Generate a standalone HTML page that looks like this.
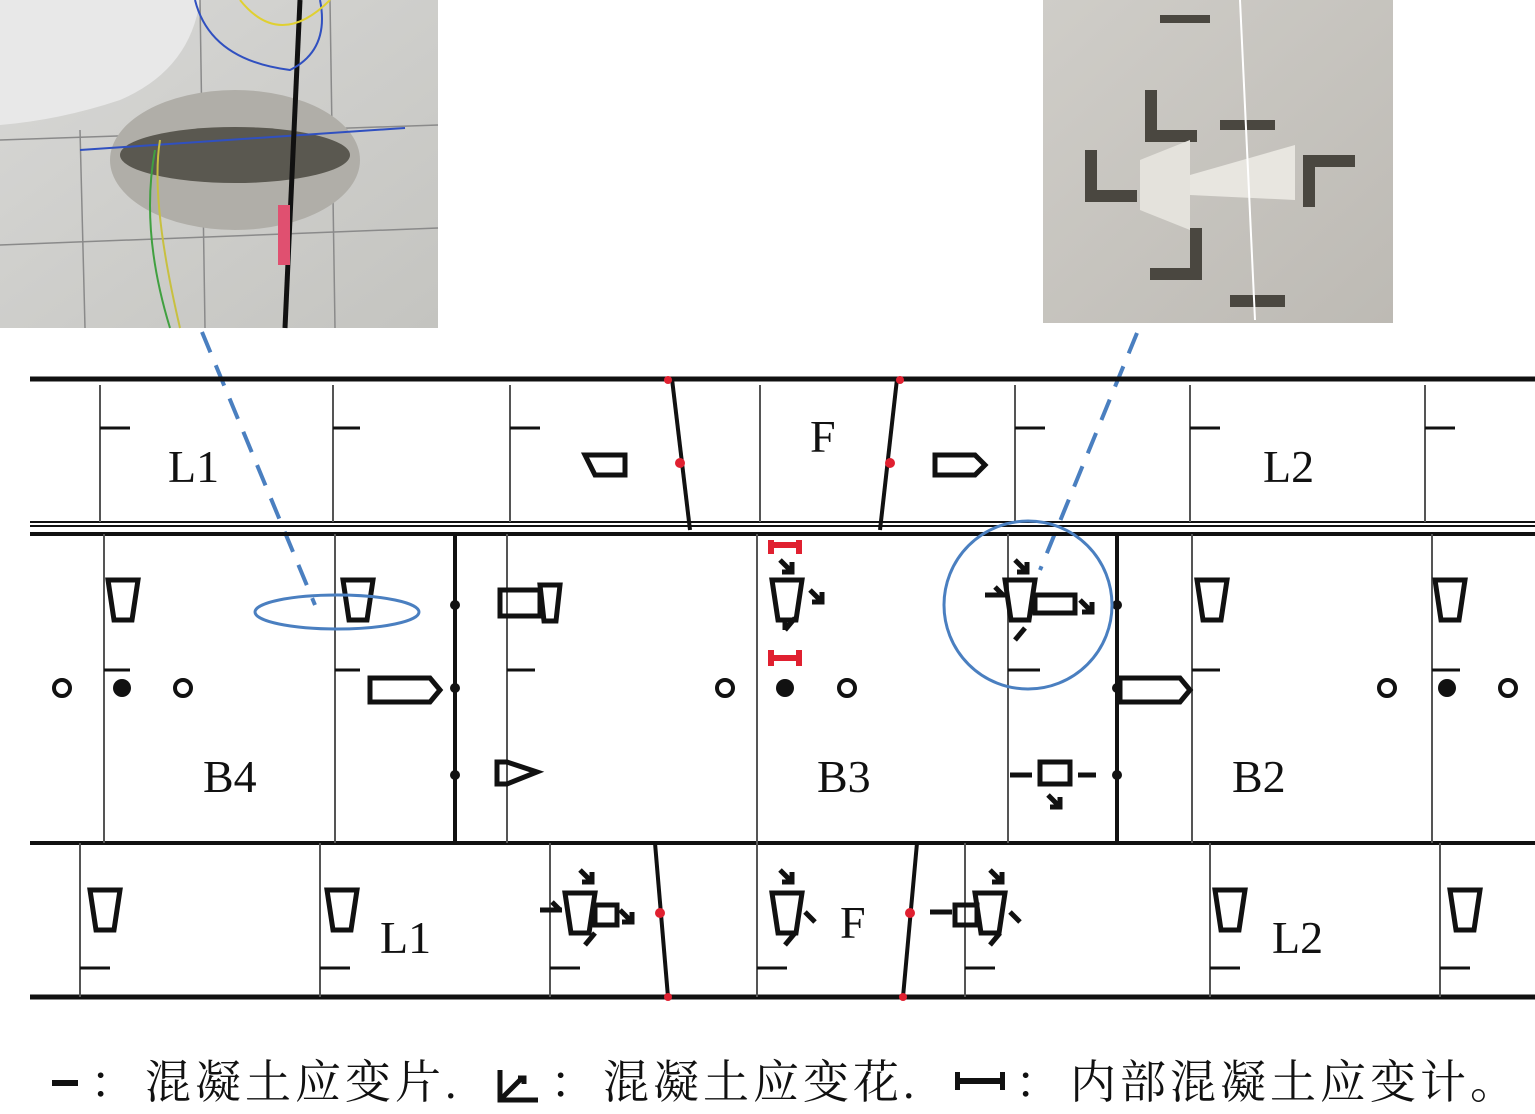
<!DOCTYPE html>
<html><head><meta charset="utf-8"><style>
html,body{margin:0;padding:0;background:#fff;width:1535px;height:1114px;overflow:hidden}
</style></head><body>
<svg width="1535" height="1114" viewBox="0 0 1535 1114" xmlns="http://www.w3.org/2000/svg">
<defs>
<linearGradient id="g1" x1="0" y1="0" x2="1" y2="1"><stop offset="0" stop-color="#d8d8d6"/><stop offset="1" stop-color="#c4c4c0"/></linearGradient>
<linearGradient id="g2" x1="0" y1="0" x2="1" y2="1"><stop offset="0" stop-color="#cfcdc8"/><stop offset="1" stop-color="#bdbab4"/></linearGradient>
</defs>
<rect x="0" y="0" width="438" height="328" fill="url(#g1)"/>
<path d="M0 0 H200 Q190 70 120 100 Q60 120 0 125 Z" fill="#e8e8e8"/>
<g stroke="#8a8a8a" stroke-width="1.5" fill="none">
<line x1="0" y1="245" x2="438" y2="228"/><line x1="0" y1="140" x2="438" y2="125"/>
<line x1="80" y1="130" x2="85" y2="328"/><line x1="200" y1="0" x2="205" y2="328"/><line x1="330" y1="0" x2="335" y2="328"/>
</g>
<ellipse cx="235" cy="160" rx="125" ry="70" fill="#b0aea8"/>
<ellipse cx="235" cy="155" rx="115" ry="28" fill="#5a5850"/>
<line x1="80" y1="150" x2="405" y2="128" stroke="#3050c0" stroke-width="2"/>
<path d="M300 0 L285 328" stroke="#111" stroke-width="5" fill="none"/>
<path d="M195 0 Q210 60 290 70 Q330 50 320 0" stroke="#3050c0" stroke-width="2" fill="none"/>
<path d="M240 0 Q280 50 330 0" stroke="#e0d030" stroke-width="2" fill="none"/>
<path d="M160 140 Q150 200 180 328" stroke="#c8c040" stroke-width="2" fill="none"/>
<path d="M155 150 Q140 230 170 328" stroke="#40a040" stroke-width="2" fill="none"/>
<rect x="278" y="205" width="12" height="60" fill="#e05070"/>
<rect x="1043" y="0" width="350" height="323" fill="url(#g2)"/>
<g fill="#4a4740">
<rect x="1160" y="15" width="50" height="8"/><rect x="1220" y="120" width="55" height="10"/><rect x="1230" y="295" width="55" height="12"/>
<path d="M1145 90 l12 0 l0 40 l40 0 l0 12 l-52 0z"/><path d="M1085 150 l12 0 l0 40 l40 0 l0 12 l-52 0z"/>
<path d="M1150 230 l12 0 l0 40 l40 0 l0 12 l-52 0z" transform="rotate(-90 1175 255)"/>
<path d="M1305 155 l12 0 l0 40 l40 0 l0 12 l-52 0z" transform="rotate(90 1330 180)"/>
</g>
<path d="M1140 160 L1190 140 L1190 230 L1140 210 Z" fill="#e4e2dc"/>
<path d="M1190 175 L1295 145 L1295 200 L1190 195 Z" fill="#e8e6e0"/>
<line x1="1240" y1="0" x2="1255" y2="320" stroke="#fff" stroke-width="2"/>
<g stroke="#4a7fc0" stroke-width="4" stroke-dasharray="22,14" fill="none">
<line x1="202" y1="332" x2="315" y2="605"/><line x1="1137" y1="333" x2="1040" y2="570"/>
</g>
<g stroke="#111" fill="none">
<line x1="30" y1="379" x2="1535" y2="379" stroke-width="5"/>
<line x1="30" y1="522" x2="1535" y2="522" stroke-width="2"/>
<line x1="30" y1="526" x2="1535" y2="526" stroke-width="2"/>
<line x1="30" y1="534" x2="1535" y2="534" stroke-width="4"/>
<line x1="30" y1="843" x2="1535" y2="843" stroke-width="4"/>
<line x1="30" y1="997" x2="1535" y2="997" stroke-width="5"/>
<line x1="455" y1="534" x2="455" y2="843" stroke-width="4"/>
<line x1="1117" y1="534" x2="1117" y2="843" stroke-width="4"/>
<line x1="672" y1="379" x2="690" y2="530" stroke-width="4"/>
<line x1="897" y1="379" x2="880" y2="530" stroke-width="4"/>
<line x1="655" y1="843" x2="668" y2="997" stroke-width="4"/>
<line x1="917" y1="843" x2="903" y2="997" stroke-width="4"/>
</g>
<g stroke="#555" stroke-width="2">
<line x1="100" y1="385" x2="100" y2="522"/><line x1="333" y1="385" x2="333" y2="522"/><line x1="510" y1="385" x2="510" y2="522"/><line x1="760" y1="385" x2="760" y2="522"/><line x1="1015" y1="385" x2="1015" y2="522"/><line x1="1190" y1="385" x2="1190" y2="522"/><line x1="1425" y1="385" x2="1425" y2="522"/>
<line x1="104" y1="534" x2="104" y2="843"/><line x1="335" y1="534" x2="335" y2="843"/><line x1="507" y1="534" x2="507" y2="843"/><line x1="757" y1="534" x2="757" y2="843"/><line x1="1008" y1="534" x2="1008" y2="843"/><line x1="1192" y1="534" x2="1192" y2="843"/><line x1="1432" y1="534" x2="1432" y2="843"/>
<line x1="80" y1="843" x2="80" y2="997"/><line x1="320" y1="843" x2="320" y2="997"/><line x1="550" y1="843" x2="550" y2="997"/><line x1="757" y1="843" x2="757" y2="997"/><line x1="965" y1="843" x2="965" y2="997"/><line x1="1210" y1="843" x2="1210" y2="997"/><line x1="1440" y1="843" x2="1440" y2="997"/>
</g>
<g stroke="#111" stroke-width="3">
<line x1="100" y1="428" x2="130" y2="428"/><line x1="333" y1="428" x2="360" y2="428"/><line x1="510" y1="428" x2="540" y2="428"/><line x1="1015" y1="428" x2="1045" y2="428"/><line x1="1190" y1="428" x2="1220" y2="428"/><line x1="1425" y1="428" x2="1455" y2="428"/>
<line x1="104" y1="670" x2="130" y2="670"/><line x1="335" y1="670" x2="360" y2="670"/><line x1="507" y1="670" x2="535" y2="670"/><line x1="1008" y1="670" x2="1040" y2="670"/><line x1="1192" y1="670" x2="1220" y2="670"/><line x1="1432" y1="670" x2="1460" y2="670"/>
<line x1="80" y1="968" x2="110" y2="968"/><line x1="320" y1="968" x2="350" y2="968"/><line x1="550" y1="968" x2="580" y2="968"/><line x1="757" y1="968" x2="787" y2="968"/><line x1="965" y1="968" x2="995" y2="968"/><line x1="1210" y1="968" x2="1240" y2="968"/><line x1="1440" y1="968" x2="1470" y2="968"/>
</g>
<g fill="none" stroke="#111" stroke-width="5">
<path d="M108 580 h30 l-6 40 h-18 z"/><path d="M343 580 h30 l-6 40 h-18 z"/><path d="M1197 580 h30 l-6 40 h-18 z"/><path d="M1435 580 h30 l-6 40 h-18 z"/>
<path d="M772 580 h30 l-6 40 h-18 z"/><path d="M1005 580 h30 l-6 40 h-18 z"/>
<path d="M500 590 h40 v26 h-40 z"/><path d="M540 585 h20 l-4 36 h-12 z"/>
<path d="M370 678 h60 l10 12 l-10 12 h-60 z"/><path d="M1120 678 h60 l10 12 l-10 12 h-60 z"/>
<path d="M497 762 h10 l30 10 l-30 12 h-10 z"/><path d="M1040 762 h30 v22 h-30 z"/>
<path d="M1035 595 h40 v18 h-40 z"/>
<path d="M585 455 h40 v20 h-30 z"/><path d="M935 455 h40 l10 10 l-10 10 h-40 z"/>
<path d="M90 890 h30 l-6 40 h-18 z"/><path d="M327 890 h30 l-6 40 h-18 z"/><path d="M1215 890 h30 l-6 40 h-18 z"/><path d="M1450 890 h30 l-6 40 h-18 z"/>
<path d="M565 893 h30 l-6 40 h-18 z"/><path d="M772 893 h30 l-6 40 h-18 z"/><path d="M975 893 h30 l-6 40 h-18 z"/>
<path d="M595 905 h22 v20 h-22 z"/><path d="M955 905 h22 v20 h-22 z"/>
</g>
<g stroke="#111" stroke-width="5" fill="none">
<path d="M780 560 l12 12 m-10 0 h10 v-10"/><path d="M810 590 l12 12 m-10 0 h10 v-10"/><path d="M785 630 l10 -12 m-10 2 v10"/>
<path d="M1015 560 l12 12 m-10 0 h10 v-10"/><path d="M985 595 h20 m-10 -8 l8 8"/><path d="M1080 600 l12 12 m-10 0 h10 v-10"/><path d="M1015 640 l10 -12"/>
<path d="M1010 775 h22"/><path d="M1048 795 l12 12 m-10 0 h10 v-10"/><path d="M1078 775 h18"/>
<path d="M580 870 l12 12 m-10 0 h10 v-10"/><path d="M540 910 h22 m-10 -8 l8 8"/><path d="M620 910 l12 12 m-10 0 h10 v-10"/><path d="M585 945 l10 -12"/>
<path d="M780 870 l12 12 m-10 0 h10 v-10"/><path d="M805 912 l10 10"/><path d="M785 945 l10 -12"/>
<path d="M990 870 l12 12 m-10 0 h10 v-10"/><path d="M930 912 h22"/><path d="M1010 912 l10 10"/><path d="M990 945 l10 -12"/>
</g>
<g fill="none" stroke="#111" stroke-width="4">
<circle cx="62" cy="688" r="8"/><circle cx="183" cy="688" r="8"/><circle cx="725" cy="688" r="8"/><circle cx="847" cy="688" r="8"/><circle cx="1387" cy="688" r="8"/><circle cx="1508" cy="688" r="8"/>
</g>
<g fill="#111"><circle cx="122" cy="688" r="9"/><circle cx="785" cy="688" r="9"/><circle cx="1447" cy="688" r="9"/>
<circle cx="455" cy="605" r="5"/><circle cx="455" cy="688" r="5"/><circle cx="455" cy="775" r="5"/><circle cx="1117" cy="605" r="5"/><circle cx="1117" cy="688" r="5"/><circle cx="1117" cy="775" r="5"/>
</g>
<g fill="#e02030">
<rect x="768" y="542" width="34" height="6"/><rect x="768" y="655" width="34" height="6"/><rect x="768" y="540" width="6" height="14"/><rect x="796" y="540" width="6" height="14"/><rect x="768" y="650" width="6" height="16"/><rect x="796" y="650" width="6" height="16"/>
<circle cx="680" cy="463" r="5"/><circle cx="890" cy="463" r="5"/><circle cx="660" cy="913" r="5"/><circle cx="910" cy="913" r="5"/>
<circle cx="668" cy="380" r="4"/><circle cx="900" cy="380" r="4"/><circle cx="668" cy="997" r="4"/><circle cx="903" cy="997" r="4"/>
</g>
<ellipse cx="337" cy="612" rx="82" ry="17" fill="none" stroke="#4a7fc0" stroke-width="3"/>
<circle cx="1028" cy="605" r="84" fill="none" stroke="#4a7fc0" stroke-width="3"/>
<g font-family="Liberation Serif, serif" font-size="46" fill="#111">
<text x="168" y="482">L1</text><text x="810" y="452">F</text><text x="1263" y="482">L2</text>
<text x="203" y="792">B4</text><text x="817" y="792">B3</text><text x="1232" y="792">B2</text>
<text x="380" y="953">L1</text><text x="840" y="938">F</text><text x="1272" y="953">L2</text>
</g>
<rect x="52" y="1080" width="26" height="6" fill="#111"/>
<path d="M500 1070 v30 h38 M500 1100 l22 -22 M518 1078 h6 v6" stroke="#111" stroke-width="5" fill="none"/>
<rect x="955" y="1078" width="50" height="6" fill="#111"/><rect x="955" y="1072" width="5" height="18" fill="#111"/><rect x="1000" y="1072" width="5" height="18" fill="#111"/>
<g font-family="Liberation Serif, 'Noto Serif CJK SC', serif" font-size="46" fill="#111">
<text x="90" y="1098">：</text><text x="145" y="1098" letter-spacing="4">混凝土应变片.</text>
<text x="550" y="1098">：</text><text x="603" y="1098" letter-spacing="4">混凝土应变花.</text>
<text x="1015" y="1098">：</text><text x="1070" y="1098" letter-spacing="4">内部混凝土应变计。</text>
</g>
</svg>
</body></html>
